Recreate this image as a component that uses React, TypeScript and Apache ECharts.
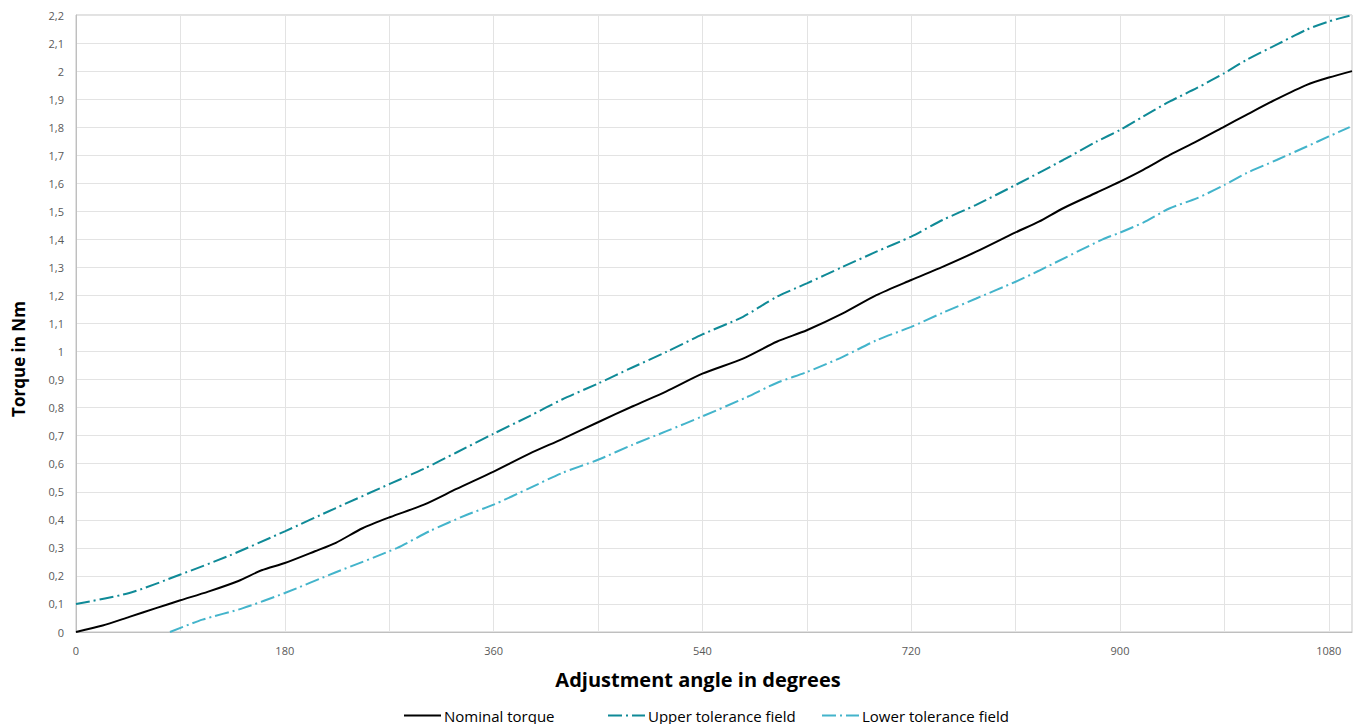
import React, { useEffect, useRef } from "react";
import * as echarts from "echarts";

const nominalAngles = [0, 23, 46, 69, 90, 114, 140, 160, 180, 206, 224, 247, 271, 300, 328, 360, 391, 419, 450, 480, 509, 540, 575, 604, 630, 661, 690, 720, 747, 776, 810, 830, 851, 880, 900, 920, 943, 966, 990, 1009, 1035, 1061, 1080, 1100];
const nominalTorque = [0, 0.023, 0.054, 0.085, 0.113, 0.144, 0.182, 0.22, 0.246, 0.288, 0.318, 0.37, 0.41, 0.454, 0.51, 0.572, 0.636, 0.688, 0.748, 0.805, 0.858, 0.921, 0.975, 1.035, 1.076, 1.136, 1.201, 1.255, 1.302, 1.356, 1.425, 1.463, 1.511, 1.567, 1.606, 1.648, 1.701, 1.749, 1.802, 1.844, 1.9, 1.951, 1.977, 2.0];

const upperAngles = [0, 46, 90, 132, 180, 224, 271, 300, 328, 360, 391, 419, 450, 480, 509, 540, 575, 604, 630, 661, 690, 720, 747, 776, 810, 851, 880, 900, 920, 943, 966, 990, 1009, 1035, 1061, 1080, 1100];
const upperTorque = [0.1, 0.139, 0.205, 0.272, 0.359, 0.442, 0.529, 0.582, 0.64, 0.707, 0.77, 0.829, 0.886, 0.944, 0.999, 1.061, 1.124, 1.195, 1.243, 1.302, 1.356, 1.41, 1.469, 1.523, 1.594, 1.683, 1.749, 1.79, 1.838, 1.892, 1.939, 1.993, 2.04, 2.094, 2.148, 2.177, 2.2];

const lowerAngles = [81, 109, 144, 180, 224, 277, 305, 337, 360, 391, 419, 450, 480, 509, 540, 577, 604, 630, 661, 690, 720, 747, 776, 810, 830, 885, 900, 920, 943, 966, 990, 1009, 1035, 1061, 1080, 1098];
const lowerTorque = [0, 0.044, 0.085, 0.139, 0.213, 0.3, 0.36, 0.418, 0.454, 0.513, 0.567, 0.614, 0.668, 0.716, 0.769, 0.835, 0.888, 0.927, 0.981, 1.04, 1.088, 1.138, 1.189, 1.249, 1.288, 1.4, 1.424, 1.46, 1.511, 1.546, 1.594, 1.636, 1.683, 1.731, 1.767, 1.8];

const seriesNames = ["Nominal torque", "Upper tolerance field", "Lower tolerance field"];
const xTitle = "Adjustment angle in degrees";
const yTitle = "Torque in Nm";

const pairs = (xs: number[], ys: number[]) => xs.map((x, i) => [x, ys[i]]);

const FONT = "'Open Sans', 'Noto Sans', sans-serif";

export default function App() {
  const ref = useRef<HTMLDivElement>(null);
  useEffect(() => {
    if (!ref.current) return;
    const chart = echarts.init(ref.current, undefined, { renderer: "svg" });
    const dashDot = [14, 4, 2, 4];
    const legendLefts = [403, 607, 821];
    chart.setOption({
      animation: false,
      backgroundColor: "#ffffff",
      textStyle: { fontFamily: FONT },
      grid: {
        left: 76,
        right: 3,
        top: 15,
        bottom: 92,
        show: true,
        borderColor: "#c4c4c4",
        borderWidth: 1,
        containLabel: false,
        outerBoundsMode: "none",
      },
      legend: seriesNames.map((n, i) => ({
        bottom: 1,
        left: legendLefts[i],
        padding: 0,
        itemWidth: 37,
        itemHeight: 10,
        itemStyle: { opacity: 0 },
        textStyle: { fontSize: 15, color: "#000000", fontFamily: FONT, padding: [0, 0, 0, -2] },
        data: [n],
      })),
      graphic: [
        {
          type: "text",
          x: 18,
          y: 359,
          rotation: Math.PI / 2,
          style: {
            text: yTitle,
            fontSize: 17,
            fontWeight: "bold",
            fill: "#000000",
            fontFamily: FONT,
            align: "center",
            verticalAlign: "middle",
          },
        },
        {
          type: "text",
          x: 698,
          y: 679,
          style: {
            text: xTitle,
            fontSize: 20,
            fontWeight: "bold",
            fill: "#000000",
            fontFamily: FONT,
            align: "center",
            verticalAlign: "middle",
          },
        },
      ],
      xAxis: {
        type: "value",
        min: 0,
        max: 1100,
        interval: 90,
        axisLine: { show: true, lineStyle: { color: "#bfbfbf", width: 1 } },
        axisTick: { show: false },
        axisLabel: {
          color: "#595959",
          fontSize: 11,
          margin: 13,
          showMaxLabel: false,
          formatter: (v: number) => (Math.round(v) % 180 === 0 ? String(Math.round(v)) : ""),
        },
        splitLine: { show: true, lineStyle: { color: "#e3e3e3", width: 1 } },
      },
      yAxis: {
        type: "value",
        min: 0,
        max: 2.2,
        interval: 0.1,
        axisLine: { show: true, lineStyle: { color: "#bfbfbf", width: 1 } },
        axisTick: { show: false },
        axisLabel: {
          color: "#595959",
          fontSize: 11,
          margin: 12,
          formatter: (v: number) => String(Math.round(v * 10) / 10).replace(".", ","),
        },
        splitLine: { show: true, lineStyle: { color: "#e3e3e3", width: 1 } },
      },
      series: [
        {
          name: seriesNames[0],
          type: "line",
          data: pairs(nominalAngles, nominalTorque),
          smooth: 0.25,
          symbol: "none",
          lineStyle: { color: "#000000", width: 2 },
          itemStyle: { color: "#000000" },
          z: 3,
        },
        {
          name: seriesNames[1],
          type: "line",
          data: pairs(upperAngles, upperTorque),
          smooth: 0.25,
          symbol: "none",
          lineStyle: { color: "#0f8a97", width: 2, type: dashDot },
          itemStyle: { color: "#0f8a97" },
        },
        {
          name: seriesNames[2],
          type: "line",
          data: pairs(lowerAngles, lowerTorque),
          smooth: 0.25,
          symbol: "none",
          lineStyle: { color: "#43b4cb", width: 2, type: dashDot },
          itemStyle: { color: "#43b4cb" },
        },
      ],
    });
    return () => chart.dispose();
  }, []);
  return (
    <div
      ref={ref}
      style={{ position: "absolute", left: 0, top: 0, width: 1355, height: 724 }}
    />
  );
}
